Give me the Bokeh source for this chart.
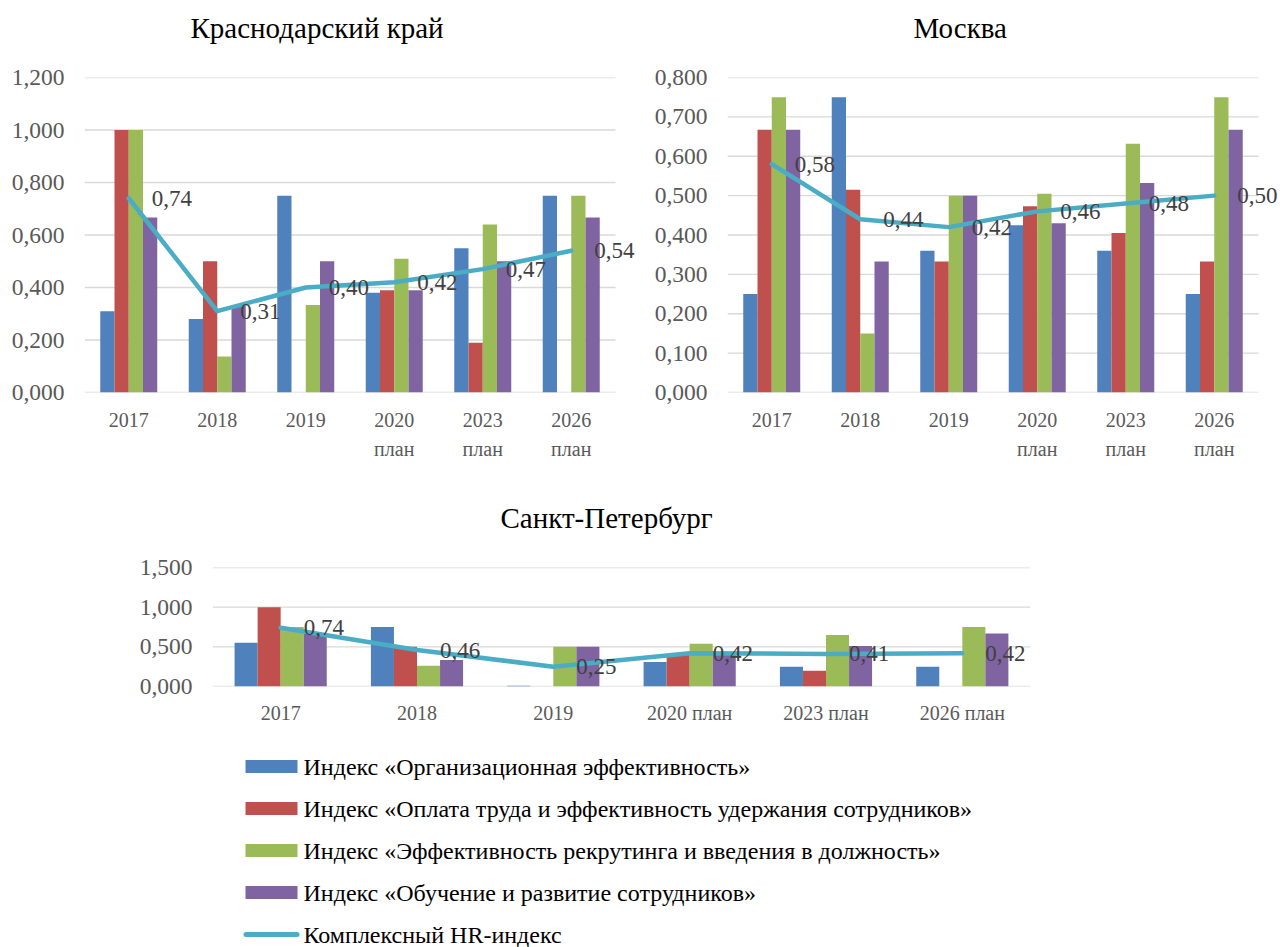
from bokeh.plotting import figure
from bokeh.models import (Range1d, FixedTicker, CustomJSTickFormatter,
                          ColumnDataSource, LabelSet)
from bokeh.transform import dodge
from bokeh.layouts import column, row
from bokeh.embed import file_html
from bokeh.resources import INLINE
from bokeh.core.properties import value

# ---------------- data ----------------
years_two_line = ["2017", "2018", "2019", "2020\nплан", "2023\nплан", "2026\nплан"]
years_one_line = ["2017", "2018", "2019", "2020 план", "2023 план", "2026 план"]

series_names = [
    "Индекс «Организационная эффективность»",
    "Индекс «Оплата труда и эффективность удержания сотрудников»",
    "Индекс «Эффективность рекрутинга и введения в должность»",
    "Индекс «Обучение и развитие сотрудников»",
    "Комплексный HR-индекс",
]
colors = ["#4F81BD", "#C0504D", "#9BBB59", "#8064A2", "#4BACC6"]

krd_org = [0.31, 0.28, 0.75, 0.38, 0.55, 0.75]
krd_pay = [1.00, 0.50, 0.00, 0.39, 0.19, 0.00]
krd_rec = [1.00, 0.137, 0.333, 0.51, 0.64, 0.75]
krd_edu = [0.667, 0.333, 0.50, 0.39, 0.50, 0.667]
krd_hr = [0.74, 0.31, 0.40, 0.42, 0.47, 0.54]

msk_org = [0.25, 0.75, 0.36, 0.425, 0.36, 0.25]
msk_pay = [0.667, 0.515, 0.333, 0.473, 0.405, 0.333]
msk_rec = [0.75, 0.15, 0.50, 0.505, 0.632, 0.75]
msk_edu = [0.667, 0.333, 0.50, 0.43, 0.532, 0.667]
msk_hr = [0.58, 0.44, 0.42, 0.46, 0.48, 0.50]

spb_org = [0.55, 0.75, 0.01, 0.31, 0.25, 0.25]
spb_pay = [1.00, 0.50, 0.00, 0.40, 0.20, 0.00]
spb_rec = [0.75, 0.26, 0.50, 0.54, 0.65, 0.75]
spb_edu = [0.667, 0.333, 0.50, 0.43, 0.51, 0.667]
spb_hr = [0.74, 0.46, 0.25, 0.42, 0.41, 0.42]

FONT = "Liberation Serif"
GRID = "#D9D9D9"


def make_chart(title, cats, org, pay, rec, edu, hr, ymax, ticks, width, height,
               borders, cat_px, extra_px, title_left, bw, xstand, xlh):
    left, right, top, bottom = borders
    n = len(cats)
    p = figure(x_range=Range1d(-0.5, n - 0.5 + extra_px / cat_px),
               y_range=Range1d(0, ymax), width=width, height=height,
               output_backend="svg", toolbar_location=None, title=title + "\n",
               min_border_left=left, min_border_right=right,
               min_border_top=top, min_border_bottom=bottom)
    p.outline_line_color = None
    p.background_fill_color = "white"
    p.border_fill_color = "white"
    p.title.align = "left"
    p.title.offset = title_left - left
    p.title.standoff = 0
    p.title.text_font = FONT
    p.title.text_font_style = "normal"
    p.title.text_font_size = "29px"
    p.title.text_line_height = 1.05
    p.title.text_color = "#000000"

    # horizontal gridlines, only across the category area
    gsrc = ColumnDataSource(dict(y=ticks, x0=[-0.5] * len(ticks), x1=[n - 0.5] * len(ticks)))
    p.segment(x0="x0", x1="x1", y0="y", y1="y", source=gsrc, line_color=GRID, line_width=1.3)

    src = ColumnDataSource(dict(
        xi=list(range(n)), org=org, pay=pay, rec=rec, edu=edu, hr=hr,
        lbl=[f"{v:.2f}".replace(".", ",") for v in hr]))
    for i, col in enumerate(["org", "pay", "rec", "edu"]):
        off = (i - 1.5) * bw
        p.vbar(x=dodge("xi", off), top=col, width=bw, source=src,
               fill_color=colors[i], line_color=None)
    p.line(x="xi", y="hr", source=src, line_color=colors[4], line_width=4.5,
           line_join="round", line_cap="round")
    p.add_layout(LabelSet(x="xi", y="hr", text="lbl", source=src, x_offset=23,
                          text_baseline="middle", text_align="left",
                          text_font=value(FONT), text_font_size=value("23px"),
                          text_color=value("#404040")))

    p.yaxis.ticker = FixedTicker(ticks=ticks)
    p.yaxis.formatter = CustomJSTickFormatter(code="return tick.toFixed(3).replace('.', ',');")
    p.yaxis.axis_line_color = None
    p.yaxis.major_tick_line_color = None
    p.yaxis.minor_tick_line_color = None
    p.yaxis.major_tick_out = 0
    p.yaxis.major_tick_in = 0
    p.yaxis.major_label_standoff = 20
    p.yaxis.major_label_text_font = FONT
    p.yaxis.major_label_text_font_size = "23.5px"
    p.yaxis.major_label_text_color = "#595959"

    p.xaxis.ticker = FixedTicker(ticks=list(range(n)))
    p.xaxis.major_label_overrides = {i: c for i, c in enumerate(cats)}
    p.xaxis.axis_line_color = None
    p.xaxis.major_tick_line_color = None
    p.xaxis.minor_tick_line_color = None
    p.xaxis.major_tick_out = 0
    p.xaxis.major_tick_in = 0
    p.xaxis.major_label_standoff = xstand
    p.xaxis.major_label_text_font = FONT
    p.xaxis.major_label_text_font_size = "20px"
    p.xaxis.major_label_text_color = "#595959"
    p.xaxis.major_label_text_line_height = xlh

    p.xgrid.grid_line_color = None
    p.ygrid.grid_line_color = None
    return p


p1 = make_chart("Краснодарский край", years_two_line, krd_org, krd_pay, krd_rec, krd_edu, krd_hr,
                1.2, [0, 0.2, 0.4, 0.6, 0.8, 1.0, 1.2], 640, 480, (84, 0, 77, 88),
                88.5, 25, 190, 0.161, 16, 1.35)
p2 = make_chart("Москва", years_two_line, msk_org, msk_pay, msk_rec, msk_edu, msk_hr,
                0.8, [0, 0.1, 0.2, 0.3, 0.4, 0.5, 0.6, 0.7, 0.8], 640, 480, (87, 0, 77, 88),
                88.5, 22, 913 - 640, 0.161, 16, 1.35)
p3 = make_chart("Санкт-Петербург", years_one_line, spb_org, spb_pay, spb_rec, spb_edu, spb_hr,
                1.5, [0, 0.5, 1.0, 1.5], 1280, 260, (212, 250, 87, 54),
                136.33, 0, 500, 0.169, 15, 1.2)

# ---------------- legend (frame aligned with the chart above: page px 212..1030) ----------------
LH = 207
pl = figure(width=1280, height=LH, x_range=Range1d(212, 1030), y_range=Range1d(LH, 0),
            output_backend="svg", toolbar_location=None,
            x_axis_location=None, y_axis_location=None,
            min_border_left=212, min_border_right=250,
            min_border_top=0, min_border_bottom=0)
pl.grid.visible = False
pl.outline_line_color = None
row_y = [26 + 42 * i for i in range(len(series_names))]
pl.rect(x=[271] * 4, y=row_y[:4], width=52, height=13, fill_color=colors[:4], line_color=None)
pl.segment(x0=[245.5], y0=[row_y[4]], x1=[296.5], y1=[row_y[4]], line_color=colors[4],
           line_width=5, line_cap="round")
pl.text(x=[303] * 5, y=row_y, text=series_names, text_baseline="middle", text_align="left",
        text_font=value(FONT), text_font_size="24px", text_color="#000000")

layout = column(row(p1, p2, spacing=0), p3, pl, spacing=0)
open("out.html", "w").write(file_html(layout, INLINE))
